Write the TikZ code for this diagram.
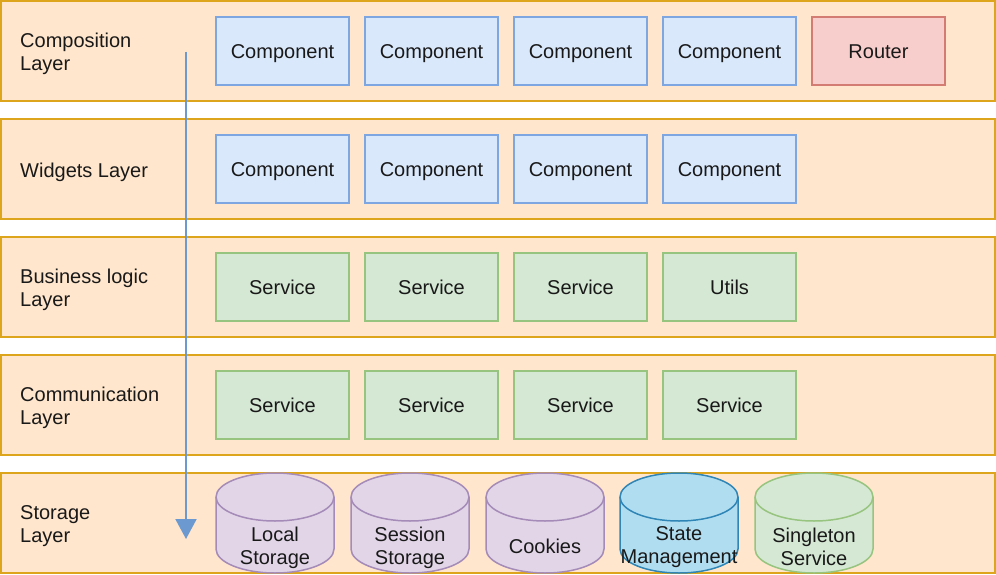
\documentclass[tikz,border=0pt]{standalone}
\usepackage{fontspec}
\setmainfont{Liberation Sans}
\usetikzlibrary{arrows.meta}
\definecolor{layerfill}{HTML}{FFE6CC}
\definecolor{layerdraw}{HTML}{DDA51C}
\definecolor{bluefill}{HTML}{DAE8FC}
\definecolor{bluedraw}{HTML}{7EA6E0}
\definecolor{redfill}{HTML}{F8CECC}
\definecolor{reddraw}{HTML}{D27C74}
\definecolor{greenfill}{HTML}{D5E8D4}
\definecolor{greendraw}{HTML}{97C47E}
\definecolor{purplefill}{HTML}{E1D5E7}
\definecolor{purpledraw}{HTML}{A58BB8}
\definecolor{cyanfill}{HTML}{B1DDF0}
\definecolor{cyandraw}{HTML}{2F86B6}
\definecolor{arrowcol}{HTML}{6C9AD0}
\newcommand\mycyl[6]{%
  \path[fill=#2,draw=#3,line width=1.5pt] (#1,497) -- (#1,549) arc (180:0:59 and 24) -- (#1+118,497) arc (0:-180:59 and 24) -- cycle;
  \draw[#3,line width=1.5pt] (#1,497) arc (180:0:59 and 24);
  \node[cyltext] (#4) at (#1+59,#6) {#5};
}
\begin{document}
\begin{tikzpicture}[x=1pt,y=-1pt,
  txtfont/.style={font=\fontsize{20}{23}\selectfont, text=black!90},
  txt/.style={txtfont, yshift=-3pt},
  layerbox/.style={fill=layerfill,draw=layerdraw,line width=2pt,minimum width=994pt,minimum height=100pt,inner sep=0pt},
  layerlabel/.style={txt,align=left,anchor=west,inner sep=0pt},
  cbox/.style={txtfont,fill=bluefill,draw=bluedraw,line width=1.5pt,minimum width=133pt,minimum height=68pt,inner sep=0pt,text depth=0pt,text height=14.6pt},
  rbox/.style={cbox,fill=redfill,draw=reddraw},
  sbox/.style={cbox,fill=greenfill,draw=greendraw},
  cyltext/.style={txt,align=center,inner sep=0pt}]
\useasboundingbox (0,0) rectangle (996,575);
% layers
\foreach \k in {0,...,4}{
  \node[layerbox] (layer\k) at (498,51+118*\k) {};
}
\node[layerlabel] (l0) at (20,51) {Composition\\Layer};
\node[layerlabel] (l1) at (20,169) {Widgets Layer};
\node[layerlabel] (l2) at (20,287) {Business logic\\Layer};
\node[layerlabel] (l3) at (20,405) {Communication\\Layer};
\node[layerlabel] (l4) at (20,523) {Storage\\Layer};
% composition
\node[cbox] (c00) at (282.5,51) {Component};
\node[cbox] (c01) at (431.5,51) {Component};
\node[cbox] (c02) at (580.5,51) {Component};
\node[cbox] (c03) at (729.5,51) {Component};
\node[rbox] (c04) at (878.5,51) {Router};
% widgets
\node[cbox] (c10) at (282.5,169) {Component};
\node[cbox] (c11) at (431.5,169) {Component};
\node[cbox] (c12) at (580.5,169) {Component};
\node[cbox] (c13) at (729.5,169) {Component};
% business
\node[sbox] (c20) at (282.5,287) {Service};
\node[sbox] (c21) at (431.5,287) {Service};
\node[sbox] (c22) at (580.5,287) {Service};
\node[sbox] (c23) at (729.5,287) {Utils};
% communication
\node[sbox] (c30) at (282.5,405) {Service};
\node[sbox] (c31) at (431.5,405) {Service};
\node[sbox] (c32) at (580.5,405) {Service};
\node[sbox] (c33) at (729.5,405) {Service};
% storage
\mycyl{216}{purplefill}{purpledraw}{s0}{Local\\Storage}{545}
\mycyl{351}{purplefill}{purpledraw}{s1}{Session\\Storage}{545}
\mycyl{486}{purplefill}{purpledraw}{s2}{Cookies}{543}
\mycyl{620}{cyanfill}{cyandraw}{s3}{State\\Management}{544}
\mycyl{755}{greenfill}{greendraw}{s4}{Singleton\\Service}{544}
% arrow
\coordinate (arrS) at (186,52);
\coordinate (arrE) at (186,539);
\draw[arrowcol,line width=2pt,-{Triangle[width=21pt,length=20pt]}] (arrS) -- (arrE);
\end{tikzpicture}
\end{document}
